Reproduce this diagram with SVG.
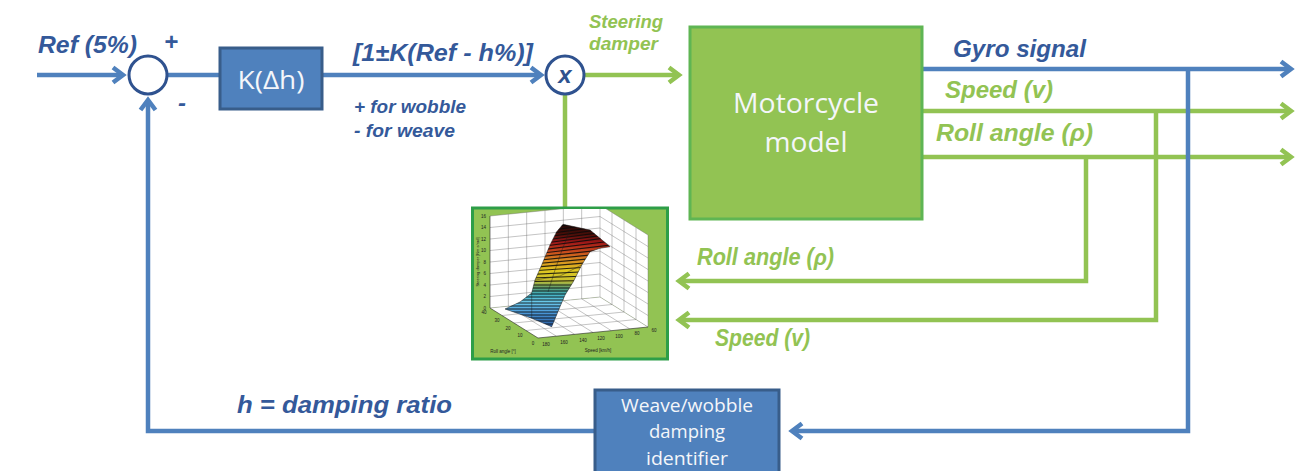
<svg xmlns="http://www.w3.org/2000/svg" width="1303" height="471" viewBox="0 0 1303 471">
<defs>
<style>
.lb{fill:none;stroke:#4f81bd;stroke-width:4.5}
.lg{fill:none;stroke:#92c353;stroke-width:4.5}
.tb{font-family:"Liberation Sans",Arial,sans-serif;font-weight:bold;font-style:italic;fill:#34599a}
.tg{font-family:"Liberation Sans",Arial,sans-serif;font-weight:bold;font-style:italic;fill:#92c353}
.tw{font-family:"Open Sans","Liberation Sans",sans-serif;fill:#f4f6fa;text-anchor:middle}
.grid{stroke:#6a6a6a;stroke-width:0.4;fill:none}
.tick{font-family:"Liberation Sans",Arial,sans-serif;font-size:4.5px;fill:#222;text-anchor:middle}
.circ{fill:#fff;stroke:#2f528f;stroke-width:3}
.bbox{fill:#4f81bd;stroke:#385d8a;stroke-width:3}
.stripe{stroke:#0a0a0a;stroke-width:1.1;stroke-opacity:0.85;fill:none}
</style>
<marker id="ab" markerUnits="userSpaceOnUse" markerWidth="30" markerHeight="30" viewBox="-20 -15 30 30" refX="-2" refY="0" orient="auto">
<path d="M-12,-7.5 L-2,0 L-12,7.5" fill="none" stroke="#4f81bd" stroke-width="4.5"/>
</marker>
<marker id="ag" markerUnits="userSpaceOnUse" markerWidth="30" markerHeight="30" viewBox="-20 -15 30 30" refX="-2" refY="0" orient="auto">
<path d="M-12,-7.5 L-2,0 L-12,7.5" fill="none" stroke="#92c353" stroke-width="4.5"/>
</marker>
<linearGradient id="surf" gradientUnits="userSpaceOnUse" x1="0" y1="224" x2="0" y2="327">
<stop offset="0" stop-color="#200806"/>
<stop offset="0.1" stop-color="#4a0e08"/>
<stop offset="0.18" stop-color="#a01818"/>
<stop offset="0.27" stop-color="#c84a1c"/>
<stop offset="0.35" stop-color="#d88a20"/>
<stop offset="0.45" stop-color="#e0c820"/>
<stop offset="0.55" stop-color="#c8c030"/>
<stop offset="0.62" stop-color="#5a9a70"/>
<stop offset="0.68" stop-color="#40b0c0"/>
<stop offset="0.76" stop-color="#6ccaec"/>
<stop offset="0.86" stop-color="#4a98d8"/>
<stop offset="1" stop-color="#2a5aa0"/>
</linearGradient>
<clipPath id="plotclip"><rect x="474" y="209" width="193" height="149"/></clipPath>
<clipPath id="surfclip"><path d="M505,309 L520,302 L531.7,293 L535,280 L541.7,265 L550,245 L556.7,231.7 L563,224.3 L590,230 L600,238.3 L610,246.7 L600,248.3 L590,251.7 L581.7,265 L573.3,281.7 L565,295 L560,306.7 L551.7,326.7 L531.7,318.3 Z"/></clipPath>
</defs>

<rect width="1303" height="471" fill="#fff"/>

<g id="connectors">
<line class="lb" x1="37" y1="75" x2="123" y2="75" marker-end="url(#ab)"/>
<line class="lb" x1="168" y1="75" x2="219" y2="75"/>
<line class="lb" x1="323" y1="75" x2="541" y2="75" marker-end="url(#ab)"/>
<line class="lg" x1="585" y1="75" x2="679" y2="75" marker-end="url(#ag)"/>
<line class="lg" x1="565" y1="95" x2="565" y2="208"/>
<line class="lb" x1="922" y1="69" x2="1291" y2="69" marker-end="url(#ab)"/>
<line class="lg" x1="922" y1="111" x2="1291" y2="111" marker-end="url(#ag)"/>
<line class="lg" x1="922" y1="157" x2="1291" y2="157" marker-end="url(#ag)"/>
<polyline class="lg" points="1086,157 1086,281 679,281" marker-end="url(#ag)"/>
<polyline class="lg" points="1156,111 1156,320 679,320" marker-end="url(#ag)"/>
<polyline class="lb" points="1188,69 1188,431 792,431" marker-end="url(#ab)"/>
<polyline class="lb" points="594,431 148,431 148,100" marker-end="url(#ab)"/>
</g>

<g id="sum">
<circle class="circ" cx="148" cy="75" r="19"/>
</g>

<g id="kblock">
<rect class="bbox" x="220" y="48" width="102" height="61"/>
<text class="tw" x="271" y="89" font-size="26" textLength="67" lengthAdjust="spacingAndGlyphs">K(Δh)</text>
</g>

<g id="mult">
<circle class="circ" cx="565" cy="75" r="19"/>
<text x="565" y="83" font-family="Liberation Sans, Arial, sans-serif" font-weight="bold" font-style="italic" font-size="24" fill="#2f528f" text-anchor="middle">x</text>
</g>

<g id="motorcycle">
<rect x="690" y="27" width="232" height="192" fill="#92c353" stroke="#5fb553" stroke-width="3"/>
<text class="tw" x="806" y="113" font-size="27" textLength="146" lengthAdjust="spacingAndGlyphs">Motorcycle</text>
<text class="tw" x="806" y="152" font-size="27" textLength="83" lengthAdjust="spacingAndGlyphs">model</text>
</g>

<g id="identifier">
<rect class="bbox" x="595" y="390" width="184" height="84"/>
<text class="tw" x="687" y="412" font-size="18" textLength="132" lengthAdjust="spacingAndGlyphs">Weave/wobble</text>
<text class="tw" x="687" y="438" font-size="18" textLength="76" lengthAdjust="spacingAndGlyphs">damping</text>
<text class="tw" x="687" y="465" font-size="18" textLength="82" lengthAdjust="spacingAndGlyphs">identifier</text>
</g>

<g id="lookup">
<rect x="472.5" y="208" width="195" height="151" fill="#92c353" stroke="#2e9e48" stroke-width="3"/>
<g clip-path="url(#plotclip)">
<polygon points="490,216 600,205 600,297 490,308" fill="#fff"/>
<polygon points="600,205 648,235 648,327 600,297" fill="#fff"/>
<polygon points="490,308 600,297 648,327 538,338" fill="#fff"/>
<g class="grid">
<line x1="490" y1="308" x2="600" y2="297"/>
<line x1="490" y1="296.5" x2="600" y2="285.5"/>
<line x1="490" y1="285" x2="600" y2="274"/>
<line x1="490" y1="273.5" x2="600" y2="262.5"/>
<line x1="490" y1="262" x2="600" y2="251"/>
<line x1="490" y1="250.5" x2="600" y2="239.5"/>
<line x1="490" y1="239" x2="600" y2="228"/>
<line x1="490" y1="227.5" x2="600" y2="216.5"/>
<line x1="490" y1="216" x2="600" y2="205"/>
<line x1="508.33" y1="306.17" x2="508.33" y2="214.17"/>
<line x1="526.67" y1="304.33" x2="526.67" y2="212.33"/>
<line x1="545" y1="302.5" x2="545" y2="210.5"/>
<line x1="563.33" y1="300.67" x2="563.33" y2="208.67"/>
<line x1="581.67" y1="298.83" x2="581.67" y2="206.83"/>
<line x1="600" y1="297" x2="600" y2="205"/>
<line x1="600" y1="285.5" x2="648" y2="315.5"/>
<line x1="600" y1="274" x2="648" y2="304"/>
<line x1="600" y1="262.5" x2="648" y2="292.5"/>
<line x1="600" y1="251" x2="648" y2="281"/>
<line x1="600" y1="239.5" x2="648" y2="269.5"/>
<line x1="600" y1="228" x2="648" y2="258"/>
<line x1="600" y1="216.5" x2="648" y2="246.5"/>
<line x1="600" y1="205" x2="648" y2="235"/>
<line x1="612" y1="304.5" x2="612" y2="212.5"/>
<line x1="624" y1="312" x2="624" y2="220"/>
<line x1="636" y1="319.5" x2="636" y2="227.5"/>
<line x1="648" y1="327" x2="648" y2="235"/>
<line x1="508.33" y1="306.17" x2="556.33" y2="336.17"/>
<line x1="526.67" y1="304.33" x2="574.67" y2="334.33"/>
<line x1="545" y1="302.5" x2="593" y2="332.5"/>
<line x1="563.33" y1="300.67" x2="611.33" y2="330.67"/>
<line x1="581.67" y1="298.83" x2="629.67" y2="328.83"/>
<line x1="600" y1="297" x2="648" y2="327"/>
<line x1="502" y1="315.5" x2="612" y2="304.5"/>
<line x1="514" y1="323" x2="624" y2="312"/>
<line x1="526" y1="330.5" x2="636" y2="319.5"/>
</g>
<g fill="none" stroke="#222" stroke-width="0.6">
<line x1="490" y1="216" x2="490" y2="308"/>
<line x1="490" y1="308" x2="538" y2="338"/>
<line x1="538" y1="338" x2="648" y2="327"/>
</g>
<path d="M505,309 L520,302 L531.7,293 L535,280 L541.7,265 L550,245 L556.7,231.7 L563,224.3 L590,230 L600,238.3 L610,246.7 L600,248.3 L590,251.7 L581.7,265 L573.3,281.7 L565,295 L560,306.7 L551.7,326.7 L531.7,318.3 Z" fill="url(#surf)" stroke="#222" stroke-width="0.5"/>
<g clip-path="url(#surfclip)">
<path class="stripe" d="M500,228 L620,212 M500,231 L620,215 M500,234 L620,218 M500,237 L620,221 M500,240 L620,224 M500,243 L620,227 M500,246 L620,230 M500,249 L620,233 M500,252 L620,236 M500,255 L620,240 M500,258 L620,244 M500,261 L620,248 M500,264 L620,252 M500,267 L620,256 M500,270 L620,260 M500,273 L620,265 M500,276 L620,270 M500,279 L620,275 M500,282 L620,280 M500,285 L620,285 M500,288 L620,288 M500,291 L620,291 M500,294 L620,294 M500,297 L620,297 M500,300 L620,300 M500,303 L620,303 M500,306 L620,306 M500,309 L620,309 M500,312 L620,312 M500,315 L620,315 M500,318 L620,318 M500,321 L620,321 M500,324 L620,324 M500,327 L620,327"/>
</g>
<g fill="none" stroke="#1a1a1a" stroke-width="0.5" stroke-opacity="0.8">
<path d="M531.7,293 L531.7,318.3"/>
<path d="M570,230 L562,250 L555,270 L548,292"/>
<path d="M535,280 L560,276 L581.7,265"/>
</g>
</g>
<g class="tick">
<text x="486" y="309.5" text-anchor="end">0</text>
<text x="486" y="298" text-anchor="end">2</text>
<text x="486" y="286.5" text-anchor="end">4</text>
<text x="486" y="275" text-anchor="end">6</text>
<text x="486" y="263.5" text-anchor="end">8</text>
<text x="486" y="252" text-anchor="end">10</text>
<text x="486" y="240.5" text-anchor="end">12</text>
<text x="486" y="229" text-anchor="end">14</text>
<text x="486" y="217.5" text-anchor="end">16</text>
<text x="484" y="314">40</text>
<text x="497" y="322">30</text>
<text x="508" y="329.5">20</text>
<text x="520" y="337">10</text>
<text x="533" y="344.5">0</text>
<text x="546" y="346">180</text>
<text x="564" y="344">160</text>
<text x="583" y="342">140</text>
<text x="601" y="340">120</text>
<text x="619" y="338">100</text>
<text x="637" y="335">80</text>
<text x="654" y="332">60</text>
<text x="503" y="353">Roll angle [°]</text>
<text x="598" y="352">Speed [km/h]</text>
<text x="0" y="0" font-size="4" transform="translate(479,262) rotate(-90)">Steering damper [Nm s/rad]</text>
</g>
</g>

<g id="labels">
<text class="tb" x="38" y="53" font-size="24" textLength="99" lengthAdjust="spacingAndGlyphs">Ref (5%)</text>
<text class="tb" x="171" y="50" font-size="24" text-anchor="middle">+</text>
<text class="tb" x="182" y="111" font-size="24" text-anchor="middle">-</text>
<text class="tb" x="353" y="61" font-size="24" textLength="180" lengthAdjust="spacingAndGlyphs">[1±K(Ref - h%)]</text>
<text class="tb" x="354" y="113" font-size="18" textLength="112" lengthAdjust="spacingAndGlyphs">+ for wobble</text>
<text class="tb" x="354" y="137" font-size="18" textLength="101" lengthAdjust="spacingAndGlyphs">- for weave</text>
<text class="tg" x="589" y="28" font-size="18" textLength="74" lengthAdjust="spacingAndGlyphs">Steering</text>
<text class="tg" x="589" y="50" font-size="18" textLength="69" lengthAdjust="spacingAndGlyphs">damper</text>
<text class="tb" x="953" y="57" font-size="24" textLength="133" lengthAdjust="spacingAndGlyphs">Gyro signal</text>
<text class="tg" x="945" y="98" font-size="24" textLength="108" lengthAdjust="spacingAndGlyphs">Speed (v)</text>
<text class="tg" x="936" y="141" font-size="24" textLength="157" lengthAdjust="spacingAndGlyphs">Roll angle (ρ)</text>
<text class="tg" x="697" y="265" font-size="23" textLength="137" lengthAdjust="spacingAndGlyphs">Roll angle (ρ)</text>
<text class="tg" x="715" y="346" font-size="23" textLength="95" lengthAdjust="spacingAndGlyphs">Speed (v)</text>
<text class="tb" x="237" y="413" font-size="24" textLength="215" lengthAdjust="spacingAndGlyphs">h = damping ratio</text>
</g>
</svg>
